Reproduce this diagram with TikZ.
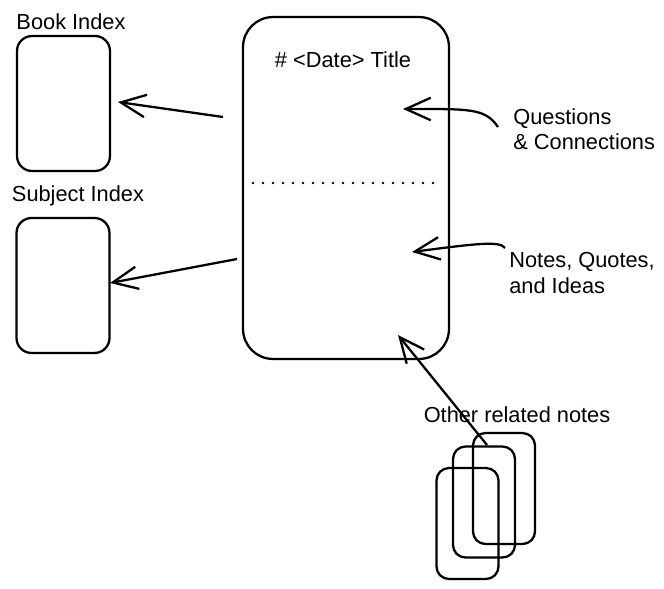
\documentclass[tikz,border=0pt]{standalone}
\usepackage{fontspec}
\setmainfont{Liberation Sans}
\usetikzlibrary{arrows.meta}
\begin{document}
\begin{tikzpicture}[x=0.02cm, y=-0.02cm]
\tikzset{carte/.style={draw, line width=1.3pt, rounded corners=0.3cm, minimum width=1.86cm, minimum height=2.7cm, inner sep=0pt},
  petite/.style={carte, minimum width=1.24cm, minimum height=2.22cm, rounded corners=0.25cm},
  fleche/.style={-{Straight Barb[length=5mm, width=4.5mm]}, line width=1.3pt},
  etiquette/.style={font=\fontsize{12.4}{14.5}\selectfont, align=left, inner sep=0pt}}
\useasboundingbox (0,0) rectangle (664,589);
\node[carte] (BI) at (63.5,103.5) {};
\node[carte] (SI) at (63,285.5) {};
\node[carte, minimum width=4.12cm, minimum height=6.84cm, rounded corners=0.6cm] (N) at (346,188) {};
\node[petite] (O3) at (504,488.5) {};
\node[petite] (O2) at (484,502) {};
\node[petite] (O1) at (467.5,523.5) {};
\node[etiquette] (tBI) at (71,22) {Book Index};
\node[etiquette] (tSI) at (78,196) {Subject Index};
\node[etiquette] (tN) at (343,60) {\# <Date> Title};
\node[etiquette, anchor=west] (tQ) at (513,129) {Questions\\\& Connections};
\node[etiquette, anchor=west] (tI) at (509,273) {Notes, Quotes,\\and Ideas};
\node[etiquette] (tO) at (517,415) {Other related notes};
\draw[line width=1.5pt, line cap=round, dash pattern=on 0pt off 0.2cm] (253,183) -- (437,183);
\coordinate (b0) at (223,117); \coordinate (b1) at (118,102);
\coordinate (s0) at (237,259); \coordinate (s1) at (110,283);
\coordinate (q0) at (498,127); \coordinate (q1) at (403,109);
\coordinate (i0) at (505,248); \coordinate (i1) at (412,252);
\coordinate (o0) at (487,445); \coordinate (o1) at (398,335);
\draw[fleche] (b0) -- (b1);
\draw[fleche] (s0) -- (s1);
\draw[fleche] (q0) .. controls (485,108) and (470,109) .. (q1);
\draw[fleche] (i0) .. controls (500,241) and (480,243) .. (i1);
\draw[fleche] (o0) -- (o1);
\end{tikzpicture}
\end{document}
